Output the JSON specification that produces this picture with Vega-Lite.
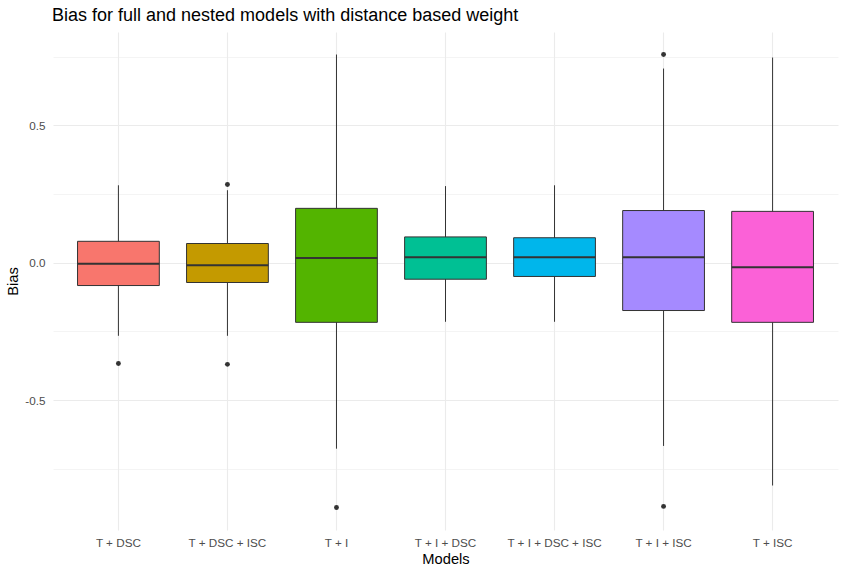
{
  "$schema": "https://vega.github.io/schema/vega-lite/v6.json",
  "width": 785,
  "height": 498,
  "autosize": {"type": "none"},
  "padding": {"left": 53, "top": 32, "right": 7, "bottom": 45},
  "background": "white",
  "config": {"view": {"stroke": null}, "font": "Liberation Sans"},
  "title": {
    "text": "Bias for full and nested models with distance based weight",
    "anchor": "start",
    "frame": "group",
    "fontSize": 18,
    "fontWeight": "normal",
    "color": "black",
    "dx": -1,
    "offset": 7
  },
  "datasets": {
    "boxes": [
      {"model": "T + DSC", "lower": -0.266, "q1": -0.083, "median": -0.004, "q3": 0.078, "upper": 0.282},
      {"model": "T + DSC + ISC", "lower": -0.266, "q1": -0.072, "median": -0.009, "q3": 0.070, "upper": 0.264},
      {"model": "T + I", "lower": -0.677, "q1": -0.217, "median": 0.017, "q3": 0.198, "upper": 0.758},
      {"model": "T + I + DSC", "lower": -0.215, "q1": -0.060, "median": 0.020, "q3": 0.094, "upper": 0.279},
      {"model": "T + I + DSC + ISC", "lower": -0.215, "q1": -0.050, "median": 0.020, "q3": 0.091, "upper": 0.282},
      {"model": "T + I + ISC", "lower": -0.667, "q1": -0.174, "median": 0.020, "q3": 0.190, "upper": 0.707},
      {"model": "T + ISC", "lower": -0.811, "q1": -0.217, "median": -0.016, "q3": 0.187, "upper": 0.747}
    ],
    "outliers": [
      {"model": "T + DSC", "value": -0.367},
      {"model": "T + DSC + ISC", "value": 0.285},
      {"model": "T + DSC + ISC", "value": -0.370},
      {"model": "T + I", "value": -0.891},
      {"model": "T + I + ISC", "value": 0.758},
      {"model": "T + I + ISC", "value": -0.887}
    ]
  },
  "encoding": {
    "x": {
      "field": "model",
      "type": "nominal",
      "sort": ["T + DSC", "T + DSC + ISC", "T + I", "T + I + DSC", "T + I + DSC + ISC", "T + I + ISC", "T + ISC"],
      "scale": {"type": "band", "paddingInner": 0, "paddingOuter": 0.1},
      "axis": {
        "title": "Models",
        "labelAngle": 0,
        "grid": true,
        "gridColor": "#EBEBEB",
        "gridWidth": 1.1,
        "domain": false,
        "ticks": false,
        "labelFontSize": 11.7,
        "labelColor": "#4D4D4D",
        "labelPadding": 7,
        "titleFontSize": 14.7,
        "titleFontWeight": "normal",
        "titleColor": "black",
        "titlePadding": 3
      }
    }
  },
  "layer": [
    {
      "data": {"name": "boxes"},
      "mark": {"type": "rule", "color": "#333333", "strokeWidth": 1},
      "encoding": {
        "y": {
          "field": "lower",
          "type": "quantitative",
          "scale": {"domain": [-0.973, 0.84], "nice": false, "zero": false},
          "axis": {
            "title": "Bias",
            "values": [-0.75, -0.5, -0.25, 0, 0.25, 0.5, 0.75],
            "labelExpr": "abs(datum.value*4)%2==1 ? '' : replace(format(datum.value, '.1f'), '−', '-')",
            "grid": true,
            "gridColor": "#EBEBEB",
            "gridWidth": {"condition": {"test": "abs(datum.value*4)%2==1", "value": 0.55}, "value": 1.1},
            "domain": false,
            "ticks": false,
            "labelFontSize": 11.7,
            "labelColor": "#4D4D4D",
            "labelPadding": 8,
            "titleFontSize": 14.7,
            "titleFontWeight": "normal",
            "titleColor": "black",
            "titlePadding": 4
          }
        },
        "y2": {"field": "upper"}
      }
    },
    {
      "data": {"name": "boxes"},
      "mark": {"type": "bar", "stroke": "#333333", "strokeWidth": 1, "width": {"band": 0.75}},
      "encoding": {
        "y": {
          "field": "q1",
          "type": "quantitative",
          "axis": {
            "title": "Bias",
            "values": [-0.75, -0.5, -0.25, 0, 0.25, 0.5, 0.75],
            "labelExpr": "abs(datum.value*4)%2==1 ? '' : replace(format(datum.value, '.1f'), '−', '-')",
            "grid": true,
            "gridColor": "#EBEBEB",
            "gridWidth": {"condition": {"test": "abs(datum.value*4)%2==1", "value": 0.55}, "value": 1.1},
            "domain": false,
            "ticks": false,
            "labelFontSize": 11.7,
            "labelColor": "#4D4D4D",
            "labelPadding": 8,
            "titleFontSize": 14.7,
            "titleFontWeight": "normal",
            "titleColor": "black",
            "titlePadding": 4
          }
        },
        "y2": {"field": "q3"},
        "color": {
          "field": "model",
          "type": "nominal",
          "scale": {
            "domain": ["T + DSC", "T + DSC + ISC", "T + I", "T + I + DSC", "T + I + DSC + ISC", "T + I + ISC", "T + ISC"],
            "range": ["#F8766D", "#C49A00", "#53B400", "#00C094", "#00B6EB", "#A58AFF", "#FB61D7"]
          },
          "legend": null
        }
      }
    },
    {
      "data": {"name": "boxes"},
      "mark": {"type": "tick", "color": "#333333", "thickness": 2, "size": 81.75, "opacity": 1},
      "encoding": {
        "y": {
          "field": "median",
          "type": "quantitative",
          "axis": {
            "title": "Bias",
            "values": [-0.75, -0.5, -0.25, 0, 0.25, 0.5, 0.75],
            "labelExpr": "abs(datum.value*4)%2==1 ? '' : replace(format(datum.value, '.1f'), '−', '-')",
            "grid": true,
            "gridColor": "#EBEBEB",
            "gridWidth": {"condition": {"test": "abs(datum.value*4)%2==1", "value": 0.55}, "value": 1.1},
            "domain": false,
            "ticks": false,
            "labelFontSize": 11.7,
            "labelColor": "#4D4D4D",
            "labelPadding": 8,
            "titleFontSize": 14.7,
            "titleFontWeight": "normal",
            "titleColor": "black",
            "titlePadding": 4
          }
        }
      }
    },
    {
      "data": {"name": "outliers"},
      "mark": {"type": "point", "filled": true, "color": "#333333", "size": 24, "opacity": 1},
      "encoding": {
        "y": {
          "field": "value",
          "type": "quantitative",
          "axis": {
            "title": "Bias",
            "values": [-0.75, -0.5, -0.25, 0, 0.25, 0.5, 0.75],
            "labelExpr": "abs(datum.value*4)%2==1 ? '' : replace(format(datum.value, '.1f'), '−', '-')",
            "grid": true,
            "gridColor": "#EBEBEB",
            "gridWidth": {"condition": {"test": "abs(datum.value*4)%2==1", "value": 0.55}, "value": 1.1},
            "domain": false,
            "ticks": false,
            "labelFontSize": 11.7,
            "labelColor": "#4D4D4D",
            "labelPadding": 8,
            "titleFontSize": 14.7,
            "titleFontWeight": "normal",
            "titleColor": "black",
            "titlePadding": 4
          }
        }
      }
    }
  ]
}
